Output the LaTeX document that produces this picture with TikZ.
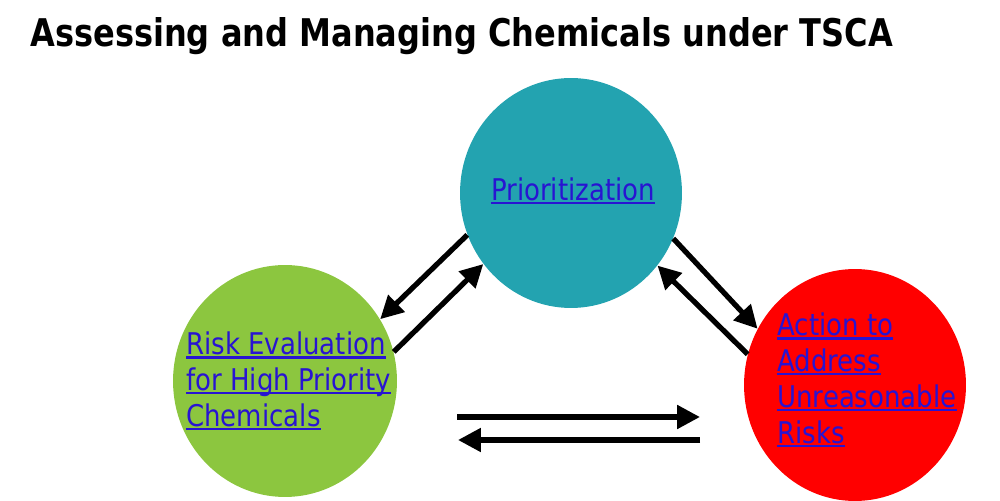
\documentclass[tikz,border=0pt]{standalone}
\usepackage{fontspec}
\setmainfont{DejaVu Sans}
\usepackage{xcolor}
\usepackage{tikz}
\usetikzlibrary{arrows.meta}
\usetikzlibrary{shapes.geometric}
\definecolor{linkblue}{RGB}{40,20,210}
\definecolor{prioteal}{RGB}{35,163,176}
\definecolor{evalgreen}{RGB}{140,198,63}
\definecolor{actred}{RGB}{255,0,0}
\newsavebox\lnkbox
\def\lnk#1{{\color{linkblue}\sbox\lnkbox{#1}\scalebox{1}[1.15]{\rlap{\rule[-2pt]{\wd\lnkbox}{1.1pt}}\usebox\lnkbox}}}
\tikzset{
	blob/.style={ellipse,inner sep=0pt},
	flow/.style={line width=3pt,-{Triangle[length=13pt,width=13pt]}},
	lbl/.style={inner sep=0pt,align=left,font=\fontsize{14.8}{20.4}\selectfont}
}

\begin{document}
\begin{tikzpicture}[x=0.02cm,y=0.02cm]
					\useasboundingbox (0,0) rectangle (1000,500);
					\node[anchor=base west,inner sep=0pt] (title) at (30,453)
						{\resizebox{491pt}{16.5pt}{\bfseries Assessing and Managing Chemicals under TSCA}};
					\node[blob,fill=prioteal,minimum width=4.44cm,minimum height=4.6cm] (prio) at (571,307) {};
					\node[blob,fill=evalgreen,minimum width=4.48cm,minimum height=4.64cm] (riskeval) at (285,119) {};
					\node[blob,fill=actred,minimum width=4.44cm,minimum height=4.64cm] (action) at (855,115) {};
					\node[lbl] (priotxt) at (573,309) {\lnk{Prioritization}};
					\node[lbl,anchor=west] (evaltxt) at (186,119) {\lnk{Risk Evaluation}\\\lnk{for High Priority}\\\lnk{Chemicals}};
					\node[lbl,anchor=west] (acttxt) at (777,120) {\lnk{Action to}\\\lnk{Address}\\\lnk{Unreasonable}\\\lnk{Risks}};
					\draw[flow] (prio.202) -- (riskeval.33);
					\draw[flow] (riskeval.15) -- (prio.219);
					\draw[flow] (prio.336) -- (action.150);
					\draw[flow] (action.164) -- (prio.320);
					\coordinate (eval out) at (457,83);
					\coordinate (act in) at (700,83);
					\coordinate (act out) at (700,60);
					\coordinate (eval in) at (458,60);
					\draw[flow] (eval out) -- (act in);
					\draw[flow] (act out) -- (eval in);
				\end{tikzpicture}
\end{document}
